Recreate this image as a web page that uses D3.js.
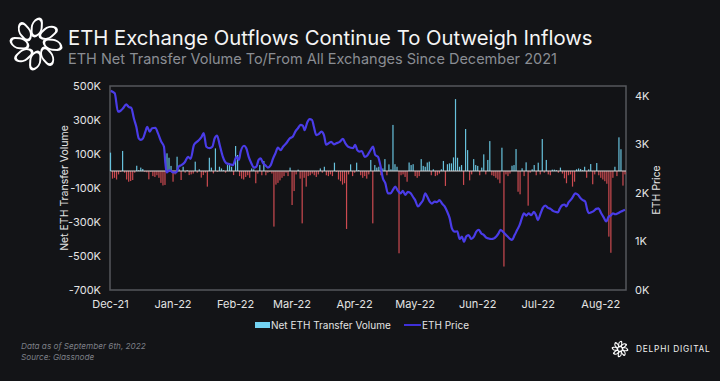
<!DOCTYPE html>
<html><head><meta charset="utf-8">
<script src="https://cdn.jsdelivr.net/npm/d3@7"></script>
<style>html,body{margin:0;padding:0;background:#131417;} svg{display:block}</style>
</head><body><svg id="c" width="720" height="381"></svg>
<script>
// ---- DATA ----
const startDate = "2021-12-01";           // day 0 of the series
const netFlowK = [ // daily net ETH transfer volume (thousands of ETH), day 0..255
108,-45,-40,-50,-20,-5,118,-10,-50,-63,-59,-53,-10,31,5,20,12,-5,-8,-49,
-5,-30,-35,-25,-40,-70,-85,-82,104,78,30,-63,-20,84,10,-53,25,-10,5,-24,
-20,-15,55,-10,10,-39,-24,-10,-92,78,20,-14,133,-5,25,15,5,-10,35,45,
25,-24,147,94,-30,-45,-50,-35,-25,-40,15,10,-72,-15,35,-25,59,-25,-10,-5,
-15,-327,-80,-70,-55,-40,-30,-10,-30,20,-200,-118,-20,8,-45,-308,-40,-92,-30,-25,
-15,-25,-35,-20,15,-10,25,-25,-30,-20,-30,49,-5,-50,-60,-80,-72,-341,-20,39,
-30,-10,49,5,-25,-40,-30,-45,-20,65,-308,35,20,25,-25,15,70,-25,39,10,
271,40,25,-484,-25,-20,-35,-63,50,35,40,-30,-40,-30,70,30,25,50,55,-25,
10,-30,-25,-15,10,59,-88,40,45,45,80,423,78,25,35,-82,247,123,-55,-20,
70,35,30,-25,20,98,-20,65,176,-25,-30,-40,-50,-72,137,-562,-20,-30,-15,31,
35,129,-122,-137,16,-30,51,-204,-10,10,35,-25,49,-20,188,-10,65,-20,-25,8,
8,5,-10,20,-15,-43,-72,-25,-20,-92,-63,10,15,12,5,25,-40,10,41,-78,
-20,47,-25,-40,-50,-60,-75,-386,-481,-40,25,-30,198,128,-86,-20
];
const priceDays = [ // days since start for each price reading
0.1,2.1,3.7,5.0,6.2,7.8,9.0,10.3,11.6,12.8,14.0,15.0,16.1,17.3,18.2,19.4,20.6,22.2,23.5,25.2,
26.5,27.2,27.8,29.3,31.0,32.6,33.8,35.1,36.8,38.4,39.7,41.4,43.4,45.0,46.2,47.5,49.1,50.5,51.6,52.8,
54.1,55.7,57.4,59.1,60.7,62.4,63.7,64.5,66.2,67.3,68.5,69.8,71.1,72.3,73.4,74.4,75.6,76.7,78.0,79.4,
80.5,81.7,83.0,84.3,85.5,87.1,88.8,90.4,91.6,92.9,94.2,95.4,96.2,97.5,98.7,99.9,100.8,102.0,103.2,104.5,
105.8,106.9,108.1,109.4,110.8,111.9,113.6,115.2,116.4,117.7,119.0,120.2,121.3,122.3,123.5,124.6,126.0,127.3,128.9,130.1,
131.2,132.6,133.9,135.0,136.2,137.5,138.8,140.0,141.1,142.5,143.8,144.9,146.1,147.4,148.8,149.9,151.0,152.4,153.7,154.9,
156.0,157.0,158.2,159.3,160.7,161.8,163.1,164.3,165.6,166.9,168.1,169.2,170.6,171.9,173.0,174.2,175.2,176.3,177.5,178.8,
180.1,181.3,182.5,183.7,185.1,186.2,187.4,188.7,190.0,191.2,192.4,193.3,194.5,196.1,197.8,199.0,200.3,201.6,202.8,203.9,
204.9,206.1,207.2,208.5,209.9,211.0,211.8,213.2,214.3,215.5,216.8,218.1,219.3,220.4,221.8,222.6,223.7,225.1,225.9,227.1,
228.0,229.2,230.3,231.7,233.0,234.1,235.3,236.3,237.0,238.3,239.6,240.7,241.9,243.2,244.5,245.7,246.9,247.9,249.0,250.1,
251.5,252.8,253.9,255.0
];
const priceK = [ // ETH price (thousands USD)
4.10,4.05,3.67,3.69,3.74,3.82,3.77,3.75,3.53,3.36,3.12,3.09,3.12,3.26,3.36,3.26,3.33,3.34,3.23,3.05,
2.95,2.61,2.42,2.47,2.42,2.42,2.54,2.57,2.63,2.74,2.70,2.99,3.07,3.14,3.23,2.95,2.92,2.95,3.12,3.18,
2.99,2.74,2.61,2.59,2.57,2.74,2.68,2.85,2.97,2.92,2.74,2.61,2.52,2.54,2.68,2.71,2.61,2.57,2.52,2.57,
2.70,2.81,2.93,2.88,2.95,3.02,3.12,3.16,3.26,3.33,3.40,3.38,3.29,3.45,3.52,3.50,3.36,3.19,3.21,3.26,
3.19,2.99,3.02,3.05,3.00,3.02,3.05,3.11,3.02,2.95,2.93,2.92,2.99,2.88,2.85,2.86,2.74,2.77,2.88,2.95,
2.78,2.74,2.54,2.30,2.20,1.99,1.99,2.06,2.13,2.04,1.99,2.04,1.96,2.02,1.99,1.92,1.85,1.72,1.78,1.85,
1.99,1.92,1.82,1.78,1.82,1.81,1.85,1.78,1.72,1.61,1.48,1.27,1.20,1.21,1.05,1.10,0.99,1.10,1.13,1.05,
1.10,1.20,1.24,1.17,1.13,1.08,1.06,1.05,1.06,1.10,1.17,1.24,1.20,1.13,1.06,1.03,1.13,1.24,1.34,1.48,
1.58,1.53,1.58,1.54,1.61,1.53,1.44,1.58,1.69,1.74,1.69,1.67,1.63,1.61,1.60,1.67,1.74,1.76,1.72,1.81,
1.85,1.92,1.99,1.96,1.89,1.85,1.82,1.65,1.58,1.60,1.63,1.67,1.68,1.58,1.49,1.41,1.51,1.53,1.58,1.56,
1.58,1.61,1.63,1.65
];
const leftTicks = [500,300,100,-100,-300,-500,-700];
const rightTicks = [0,1,2,3,4];
const title = "ETH Exchange Outflows Continue To Outweigh Inflows";
const subtitle = "ETH Net Transfer Volume To/From All Exchanges Since December 2021";
const leftTitle = "Net ETH Transfer Volume";
const rightTitle = "ETH Price";
const legendLabels = ["Net ETH Transfer Volume","ETH Price"];
const footer = ["Data as of September 6th, 2022","Source: Glassnode"];
const brand = "DELPHI DIGITAL";

// ---- CHART ----
const svg = d3.select("#c");
const FONT = "Inter, 'Noto Sans', sans-serif";
const plot = {l:110.5, r:626, t:86, b:290};
const t0 = new Date(startDate + "T00:00:00Z");
const dayDate = d => new Date(t0.getTime() + d*86400000);

const x = d3.scaleUtc().domain([t0, dayDate(255.5)]).range([plot.l, plot.r]);
const yL = d3.scaleLinear().domain([-700,500]).range([plot.b, plot.t]);
const yR = d3.scaleLinear().domain([0,4.2]).range([plot.b, plot.t]);

svg.append("rect").attr("width",720).attr("height",381).attr("fill","#131417");

// frame
svg.append("rect").attr("x",plot.l-0.5).attr("y",plot.t).attr("width",plot.r-plot.l+0.5).attr("height",plot.b-plot.t)
  .attr("fill","#121316").attr("stroke","#55575c").attr("stroke-width",1.5);

// bars
svg.append("g").selectAll("rect").data(netFlowK).join("rect")
  .attr("x",(d,i)=>x(dayDate(i))-0.6)
  .attr("width",1.2)
  .attr("y",d=>d>=0?yL(d):yL(0))
  .attr("height",d=>Math.abs(yL(d)-yL(0)))
  .attr("fill",d=>d>=0?"#67c1dc":"#cc4a50");

// zero line
svg.append("line").attr("x1",plot.l).attr("x2",plot.r).attr("y1",yL(0)).attr("y2",yL(0))
  .attr("stroke","#d6d6d6").attr("stroke-width",1);

// price line
const pts = priceDays.map((d,i)=>[d,priceK[i]]);
svg.append("path").datum(pts)
  .attr("d",d3.line().x(p=>x(dayDate(p[0]))).y(p=>yR(p[1])).curve(d3.curveMonotoneX))
  .attr("fill","none").attr("stroke","#4a3ce8").attr("stroke-width",2.2).attr("stroke-linejoin","round");

// left axis labels
svg.append("g").selectAll("text").data(leftTicks).join("text")
  .attr("x",101).attr("y",d=>yL(d)).attr("dy","0.35em").attr("text-anchor","end")
  .attr("font-family",FONT).attr("font-size",11).attr("fill","#e4e4e4")
  .text(d=>d+"K");
// right axis labels
svg.append("g").selectAll("text").data(rightTicks).join("text")
  .attr("x",635).attr("y",d=>yR(d)).attr("dy","0.35em").attr("text-anchor","start")
  .attr("font-family",FONT).attr("font-size",11).attr("fill","#e4e4e4")
  .text(d=>d+"K");
// x axis labels
const fmt = d3.utcFormat("%b-%y");
svg.append("g").selectAll("text").data(x.ticks(d3.utcMonth.every(1))).join("text")
  .attr("x",d=>x(d)).attr("y",304).attr("dy","0.35em").attr("text-anchor","middle")
  .attr("font-family",FONT).attr("font-size",11).attr("fill","#e4e4e4")
  .text(d=>fmt(d));

// axis titles
svg.append("text").attr("transform","translate(64,188) rotate(-90)").attr("text-anchor","middle")
  .attr("dy","0.35em").attr("font-family",FONT).attr("font-size",10.5).attr("fill","#e4e4e4").text(leftTitle);
svg.append("text").attr("transform","translate(656,190) rotate(-90)").attr("text-anchor","middle")
  .attr("dy","0.35em").attr("font-family",FONT).attr("font-size",10.5).attr("fill","#e4e4e4").text(rightTitle);

// legend
svg.append("rect").attr("x",255).attr("y",322).attr("width",15).attr("height",6).attr("fill","#72d2f2");
svg.append("text").attr("x",271).attr("y",325).attr("dy","0.35em").attr("font-family",FONT).attr("font-size",10)
  .attr("fill","#e4e4e4").text(legendLabels[0]);
svg.append("line").attr("x1",404).attr("x2",421).attr("y1",325).attr("y2",325).attr("stroke","#3f30d8").attr("stroke-width",2);
svg.append("text").attr("x",422).attr("y",325).attr("dy","0.35em").attr("font-family",FONT).attr("font-size",10)
  .attr("fill","#e4e4e4").text(legendLabels[1]);

// titles
svg.append("text").attr("x",68).attr("y",45).attr("font-family",FONT).attr("font-size",20.3).attr("fill","#f5f5f5").text(title);
svg.append("text").attr("x",68).attr("y",64).attr("font-family",FONT).attr("font-size",14.5).attr("fill","#8a8d93").text(subtitle);

// footer
footer.forEach((t,i)=>svg.append("text").attr("x",21).attr("y",349+i*11).attr("font-family",FONT)
  .attr("font-style","italic").attr("font-size",8.2).attr("fill","#7c7f86").text(t));

// logos
function logo(cx,cy,s,sw){
  const g = svg.append("g").attr("transform",`translate(${cx},${cy}) scale(${s})`);
  d3.range(8).forEach(k=>{
    g.append("rect").attr("x",-5.5).attr("y",-22.5).attr("width",11).attr("height",15).attr("rx",5.5)
      .attr("transform",`rotate(${k*45+22.5}) skewX(-25)`)
      .attr("fill","none").attr("stroke","#ffffff").attr("stroke-width",sw);
  });
}
logo(36,44,1,2.2);
logo(620,349,0.3,4);
svg.append("text").attr("x",636).attr("y",349).attr("dy","0.35em").attr("font-family",FONT)
  .attr("font-size",8.3).attr("letter-spacing",0.8).attr("fill","#f0f0f0").text(brand);
</script></body></html>
